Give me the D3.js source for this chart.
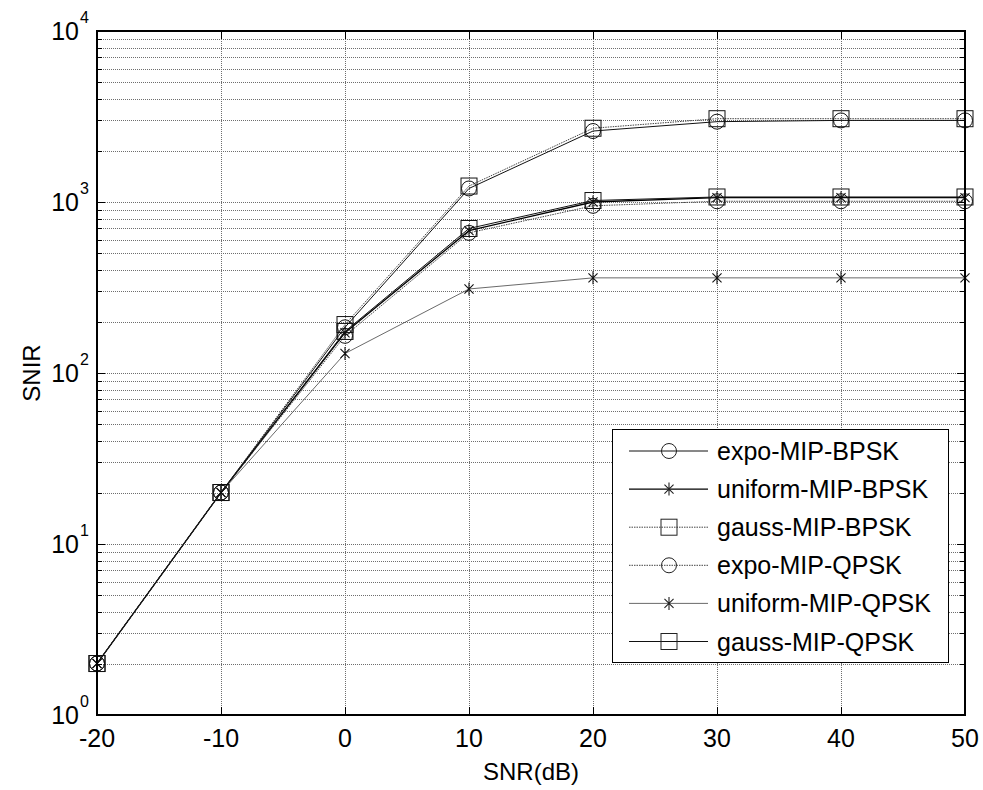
<!DOCTYPE html>
<html>
<head>
<meta charset="utf-8">
<script src="https://cdn.jsdelivr.net/npm/d3@7"></script>
<style>
    body { margin: 0; background: #fff; }
    svg { display: block; font-family: "Liberation Sans", Arial, sans-serif; }
</style>
</head>
<body>
<svg id="chart" width="983" height="790"></svg>
<script>
(function () {
    'use strict';

    // SNR (dB) values on the x axis
    const snr = [-20, -10, 0, 10, 20, 30, 40, 50];

    // SNIR, one array per curve
    const expoBPSK    = [2, 20, 185, 1200, 2600, 2950, 3000, 3000];
    const uniformBPSK = [2, 20, 172, 680, 1000, 1060, 1060, 1060];
    const gaussBPSK   = [2, 20, 192, 1240, 2700, 3070, 3070, 3070];
    const expoQPSK    = [2, 20, 165, 660, 950, 1010, 1010, 1010];
    const uniformQPSK = [2, 20, 130, 310, 360, 360, 360, 360];
    const gaussQPSK   = [2, 20, 175, 700, 1020, 1070, 1070, 1070];

    const xTicks = [-20, -10, 0, 10, 20, 30, 40, 50];
    const yDecades = [0, 1, 2, 3, 4];

    const series = [
        {name: "expo-MIP-BPSK",    values: expoBPSK,    marker: "circle", stroke: "#111", width: 1,   dash: null},
        {name: "uniform-MIP-BPSK", values: uniformBPSK, marker: "star",   stroke: "#000", width: 1.3, dash: null},
        {name: "gauss-MIP-BPSK",   values: gaussBPSK,   marker: "square", stroke: "#444", width: 1,   dash: "1.5,1"},
        {name: "expo-MIP-QPSK",    values: expoQPSK,    marker: "circle", stroke: "#444", width: 1,   dash: "1.5,1"},
        {name: "uniform-MIP-QPSK", values: uniformQPSK, marker: "star",   stroke: "#444", width: 0.8, dash: null},
        {name: "gauss-MIP-QPSK",   values: gaussQPSK,   marker: "square", stroke: "#111", width: 1,   dash: null}
    ];

    const left = 97, right = 965, top = 31, bottom = 715;

    const x = d3.scaleLinear().domain([-20, 50]).range([left, right]);
    const y = d3.scaleLog().domain([1, 1e4]).range([bottom, top]);

    const svg = d3.select("#chart");

    // grid
    const minor = [];
    for (let e = 0; e < 4; e++) {
        for (let m = 2; m <= 9; m++) minor.push(m * Math.pow(10, e));
    }
    const grid = svg.append("g")
        .attr("stroke", "#6e6e6e")
        .attr("stroke-width", 1)
        .attr("stroke-dasharray", "1,1")
        .attr("shape-rendering", "crispEdges");

    grid.selectAll("line.h")
        .data(minor.concat(yDecades.slice(1, 4).map(e => Math.pow(10, e))))
        .join("line")
        .attr("class", "h")
        .attr("x1", left).attr("x2", right)
        .attr("y1", d => Math.round(y(d)) + 0.5)
        .attr("y2", d => Math.round(y(d)) + 0.5);

    grid.selectAll("line.v")
        .data(xTicks.slice(1, -1))
        .join("line")
        .attr("class", "v")
        .attr("y1", top).attr("y2", bottom)
        .attr("x1", d => Math.round(x(d)) + 0.5)
        .attr("x2", d => Math.round(x(d)) + 0.5);

    // curves
    const line = d3.line()
        .x((d, i) => x(snr[i]))
        .y(d => y(d));

    svg.append("g")
        .selectAll("path")
        .data(series)
        .join("path")
        .attr("fill", "none")
        .attr("stroke", d => d.stroke)
        .attr("stroke-width", d => d.width)
        .attr("stroke-dasharray", d => d.dash)
        .attr("d", d => line(d.values));

    function drawMarker(g, type, cx, cy, color) {
        if (type === "circle") {
            g.append("circle")
                .attr("cx", cx).attr("cy", cy).attr("r", 7.5)
                .attr("fill", "none").attr("stroke", color).attr("stroke-width", 1);
        } else if (type === "square") {
            g.append("rect")
                .attr("x", cx - 8).attr("y", cy - 8)
                .attr("width", 16).attr("height", 16)
                .attr("fill", "none").attr("stroke", color).attr("stroke-width", 1);
        } else {
            const r = 6.5;
            const s = r * 0.7;
            g.append("path")
                .attr("d", `M${cx},${cy - r}V${cy + r}M${cx - s},${cy - s}L${cx + s},${cy + s}M${cx - s},${cy + s}L${cx + s},${cy - s}`)
                .attr("stroke", color).attr("stroke-width", 1.1).attr("fill", "none");
        }
    }

    const markers = svg.append("g");
    series.forEach(s => {
        s.values.forEach((v, i) => drawMarker(markers, s.marker, x(snr[i]), y(v), "#111"));
    });

    // axis box and ticks
    const axis = svg.append("g").attr("stroke", "#000").attr("shape-rendering", "crispEdges");
    axis.append("rect")
        .attr("x", left).attr("y", top)
        .attr("width", right - left).attr("height", bottom - top)
        .attr("fill", "none").attr("stroke-width", 2);

    xTicks.forEach(t => {
        const px = Math.round(x(t)) + 0.5;
        axis.append("line").attr("x1", px).attr("x2", px).attr("y1", bottom).attr("y2", bottom - 8);
        axis.append("line").attr("x1", px).attr("x2", px).attr("y1", top).attr("y2", top + 8);
    });
    minor.concat(yDecades.map(e => Math.pow(10, e))).forEach(t => {
        const py = Math.round(y(t)) + 0.5;
        const len = Number.isInteger(Math.log10(t)) ? 8 : 5;
        axis.append("line").attr("x1", left).attr("x2", left + len).attr("y1", py).attr("y2", py);
        axis.append("line").attr("x1", right).attr("x2", right - len).attr("y1", py).attr("y2", py);
    });

    // tick labels
    svg.append("g")
        .attr("font-size", 25)
        .attr("text-anchor", "middle")
        .selectAll("text")
        .data(xTicks)
        .join("text")
        .attr("x", d => x(d))
        .attr("y", 747)
        .text(d => d);

    const yl = svg.append("g");
    yl.selectAll("text.base")
        .data(yDecades)
        .join("text")
        .attr("class", "base")
        .attr("font-size", 25)
        .attr("text-anchor", "end")
        .attr("x", 79)
        .attr("y", d => y(Math.pow(10, d)) + 9)
        .text("10");
    yl.selectAll("text.exp")
        .data(yDecades)
        .join("text")
        .attr("class", "exp")
        .attr("font-size", 16)
        .attr("x", 80)
        .attr("y", d => y(Math.pow(10, d)) - 8)
        .text(d => d);

    // axis titles
    svg.append("text")
        .attr("x", (left + right) / 2)
        .attr("y", 780)
        .attr("text-anchor", "middle")
        .attr("font-size", 24)
        .text("SNR(dB)");

    svg.append("text")
        .attr("transform", `translate(40,${(top + bottom) / 2}) rotate(-90)`)
        .attr("text-anchor", "middle")
        .attr("font-size", 24)
        .text("SNIR");

    // legend
    const legend = svg.append("g");
    legend.append("rect")
        .attr("x", 612.5).attr("y", 429.5)
        .attr("width", 336).attr("height", 233)
        .attr("fill", "#fff").attr("stroke", "#000").attr("stroke-width", 1);

    series.forEach((s, i) => {
        const cy = 451 + i * 38.1;
        legend.append("line")
            .attr("x1", 629).attr("x2", 708)
            .attr("y1", cy).attr("y2", cy)
            .attr("stroke", s.stroke)
            .attr("stroke-width", s.width)
            .attr("stroke-dasharray", s.dash);
        drawMarker(legend, s.marker, 669, cy, "#222");
        legend.append("text")
            .attr("x", 717)
            .attr("y", cy + 9)
            .attr("font-size", 25)
            .text(s.name);
    });
}());
</script>
</body>
</html>
